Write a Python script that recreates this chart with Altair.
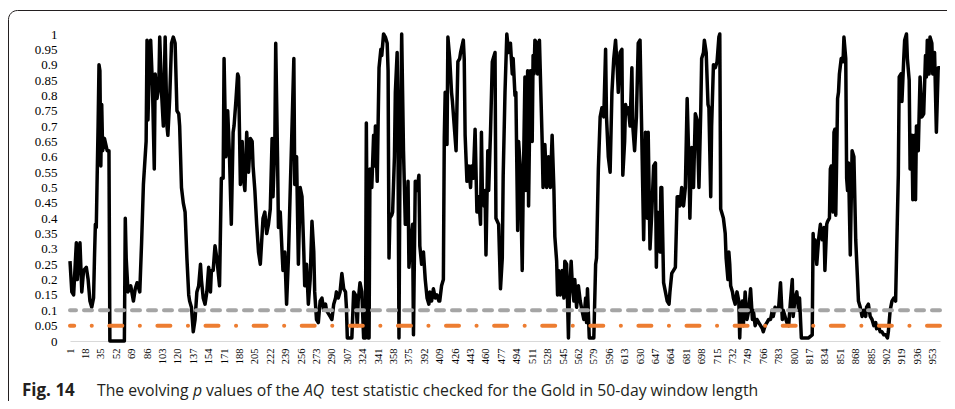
import altair as alt
import pandas as pd

# ---- data (day index, p value) ----
days = [1, 3, 5, 8, 9, 12, 14, 16, 19, 21, 23, 25, 27, 28, 29, 30, 31, 32, 33, 34, 35, 36, 37, 39, 42, 44, 45, 61, 62, 63, 65, 68, 71, 73, 75, 78, 80, 82, 85, 86, 87, 89, 90, 92, 94, 95, 97, 99,
        100, 102, 104, 106, 108, 109, 111, 113, 115, 117, 119, 121, 122, 124, 126, 128, 130, 132, 133, 135, 137, 139, 141, 143, 145, 146, 148, 150, 152, 154, 156, 157, 159, 161, 163, 166, 168, 170, 171, 173, 175, 177, 179, 181, 182, 184, 186, 187, 189, 191, 192, 194, 196, 198,
        200, 202, 203, 205, 207, 209, 211, 213, 214, 216, 218, 220, 222, 224, 225, 227, 228, 230, 231, 233, 235, 236, 238, 240, 242, 244, 246, 248, 249, 251, 253, 255, 257, 259, 260, 262, 264, 266, 268, 270, 271, 273, 275, 277, 279, 281, 283, 284, 288, 290, 292, 294, 295, 297, 299,
        301, 303, 305, 306, 307, 312, 314, 316, 318, 319, 321, 323, 325, 327, 328, 329, 330, 331, 332, 334, 336, 337, 338, 340, 341, 342, 344, 345, 347, 349, 351, 352, 353, 354, 356, 357, 359, 360, 362, 363, 364, 365, 367, 369, 371, 373, 374, 375, 377, 379, 380, 381, 382, 384, 386, 387, 389, 391, 393, 395, 397, 398,
        400, 402, 404, 406, 408, 409, 411, 413, 414, 415, 417, 418, 420, 422, 423, 425, 427, 429, 431, 432, 435, 436, 437, 439, 441, 443, 444, 446, 448, 450, 452, 454, 455, 456, 458, 459, 460, 462, 463, 465, 467, 468, 470, 471, 474, 476, 478, 479, 481, 483, 485, 487, 489, 490, 492, 493, 495, 496, 498,
        500, 501, 503, 504, 506, 507, 509, 511, 512, 513, 514, 516, 517, 519, 520, 522, 523, 525, 527, 529, 531, 533, 535, 536, 538, 539, 540, 542, 544, 546, 547, 549, 551, 552, 554, 555, 557, 558, 560, 562, 564, 566, 568, 570, 571, 572, 574, 579, 581, 582, 584, 586, 588, 590, 592, 593, 595, 597, 599,
        601, 603, 605, 606, 608, 610, 611, 613, 614, 616, 617, 619, 621, 622, 624, 626, 628, 630, 634, 636, 638, 639, 641, 643, 645, 647, 648, 649, 652, 653, 654, 656, 658, 660, 662, 663, 665, 667, 669, 671, 673, 674, 676, 678, 680, 682, 684, 685, 687, 689, 691, 693, 695, 697, 698,
        700, 701, 703, 705, 706, 708, 709, 711, 713, 715, 717, 718, 719, 720, 722, 724, 725, 727, 728, 729, 730, 732, 733, 735, 737, 739, 740, 741, 743, 744, 746, 748, 750, 752, 754, 755, 757, 759, 761, 763, 765, 766, 768, 770, 772, 774, 776, 777, 779, 781, 783, 785, 787, 788, 790, 792, 794, 796, 798, 799,
        801, 803, 805, 806, 808, 812, 816, 820, 821, 822, 823, 825, 827, 829, 831, 833, 834, 836, 837, 839, 840, 841, 843, 844, 845, 846, 848, 849, 850, 852, 854, 855, 857, 858, 859, 860, 862, 864, 866, 868, 870, 871, 873, 875, 877, 879, 880, 882, 884, 886, 888, 890, 891, 893, 895, 897, 899,
        901, 903, 904, 906, 908, 910, 912, 913, 915, 916, 918, 919, 921, 922, 924, 925, 927, 928, 930, 931, 933, 934, 935, 937, 939, 941, 943, 945, 946, 947, 949, 950, 952, 953, 955, 957, 959, 961]

p_values = [.26, .16, .15, .32, .20, .32, .16, .23, .24, .20, .13, .11, .14, .27, .38, .37, .54, .70, .90, .88, .57, .77, .62, .66, .62, .62, 0, 0, .40, .27, .16, .18, .13, .17, .19, .16, .32, .51, .65, .98, .72, .94, .98, .83, .56, .87, .79, .83,
            .99, .81, .70, .99, .70, .67, .79, .97, .99, .97, .75, .74, .70, .50, .45, .42, .27, .15, .13, .11, .03, .07, .16, .18, .25, .20, .14, .12, .16, .24, .16, .23, .23, .31, .27, .18, .53, .53, .92, .60, .75, .60, .38, .68, .70, .78, .87, .86, .51, .65, .54, .49, .68, .55,
            .66, .65, .57, .49, .38, .29, .25, .35, .40, .42, .35, .38, .43, .66, .47, .64, .97, .60, .37, .42, .29, .23, .29, .12, .27, .49, .70, .92, .51, .60, .25, .50, .47, .29, .18, .25, .12, .20, .39, .29, .16, .07, .06, .13, .14, .10, .12, .10, .08, .07, .12, .14, .16, .14, .16,
            .22, .17, .16, .11, .01, .01, .16, .15, .05, .13, .19, .16, .01, .01, .71, .27, .01, .01, .56, .50, .67, .57, .70, .52, .71, .89, .95, .93, 1.0, .99, .97, .88, .27, .40, .41, .42, .60, .81, .94, .60, .01, .52, 1.0, .62, .38, .38, .52, .24, .32, .38, .02, .27, .52, .49, .54, .31, .25, .29, .20, .14, .12, .16,
            .13, .17, .14, .15, .13, .13, .18, .20, .66, .81, .64, .99, .92, .81, .78, .70, .62, .91, .92, .94, .98, .92, .67, .52, .57, .50, .57, .53, .69, .42, .47, .38, .68, .49, .44, .49, .28, .62, .49, .68, .91, .92, .94, .40, .38, .17, .27, .54, .81, 1.0, .94, .97, .87, .92, .80, .81, .36, .65, .56,
            .23, .48, .86, .49, .88, .44, .88, .65, .93, .87, .98, .97, .87, .98, .87, .65, .50, .64, .50, .60, .50, .67, .49, .34, .26, .15, .23, .15, .23, .14, .26, .25, .01, .14, .26, .20, .13, .20, .11, .18, .13, .10, .07, .14, .06, .17, .01, .01, .25, .27, .56, .73, .76, .73, .95, .73, .60, .55, .81,
            .92, .98, .88, .81, .94, .95, .54, .65, .77, .74, .76, .70, .89, .70, .62, .73, .97, .98, .33, .68, .40, .68, .30, .42, .57, .58, .24, .42, .29, .50, .50, .19, .16, .13, .12, .16, .22, .23, .24, .47, .47, .44, .50, .44, .50, .79, .57, .40, .63, .50, .74, .72, .50, .75, .92,
            .94, .98, .94, .77, .76, .47, .70, .90, .89, .91, .99, 1.0, .43, .42, .40, .35, .27, .20, .29, .25, .18, .16, .14, .12, .16, .13, .01, .10, .13, .05, .16, .07, .10, .17, .07, .10, .05, .07, .06, .05, .04, .03, .05, .06, .07, .07, .10, .08, .11, .10, .11, .19, .07, .10, .08, .06, .05, .13, .20, .08,
            .14, .16, .10, .14, .01, .01, .01, .02, .35, .27, .33, .25, .33, .38, .33, .37, .23, .38, .39, .40, .56, .57, .42, .68, .69, .41, .79, .81, .87, .92, .91, .99, .92, .53, .49, .58, .28, .62, .60, .33, .20, .13, .11, .08, .10, .08, .11, .12, .08, .07, .05, .06, .04, .05, .03, .03, .02,
            .02, .01, .03, .10, .13, .14, .13, .27, .54, .86, .87, .78, .92, .98, 1.0, .92, .85, .56, .67, .46, .67, .46, .70, .62, .86, .73, .74, .93, .86, .98, .87, .99, .97, .87, .94, .68, .89, .89]

x_tick_labels = list(range(1, 954, 17))          # 1, 18, 35, ... 953
y_ticks = [round(i * 0.05, 2) for i in range(21)]  # 0 ... 1
gray_level = [0.1]
orange_level = [0.05]

caption_bold = "Fig. 14"
caption_parts = [("The evolving", "normal"), ("p", "italic"), ("values of the", "normal"),
                 ("AQ", "italic"), ("test statistic checked for the Gold in 50-day window length", "normal")]
caption_x = [27, 123, 136, 234, 261]

df = pd.DataFrame({"day": days, "p": p_values})
one = pd.DataFrame({"k": [0]})

W, H = 870, 307
serif = "Liberation Serif"

x_enc = alt.X("day:Q", scale=alt.Scale(domain=[1, 961], nice=False, zero=False),
              axis=alt.Axis(values=x_tick_labels, labelAngle=-90, grid=False, ticks=False,
                            domainColor="#d9d9d9", domainWidth=1, labelFont=serif, labelFontSize=10.5,
                            labelPadding=7, labelColor="#000", labelOverlap=False, labelFlush=False,
                            title=None))
y_enc = alt.Y("p:Q", scale=alt.Scale(domain=[0, 1], nice=False),
              axis=alt.Axis(values=y_ticks, format=".2~f", grid=False, ticks=False, domain=False,
                            labelFont=serif, labelFontSize=13, labelPadding=13, labelColor="#000",
                            labelOverlap=False, labelFlush=False, title=None))

line = alt.Chart(df).mark_line(color="#000000", strokeWidth=3.5, strokeJoin="round").encode(x=x_enc, y=y_enc)

gray_rule = alt.Chart(pd.DataFrame({"p": gray_level})).mark_rule(
    color="#a5a5a5", strokeWidth=4, strokeDash=[8, 8], strokeCap="round").encode(y=y_enc)
orange_rule = alt.Chart(pd.DataFrame({"p": orange_level})).mark_rule(
    color="#ed7d31", strokeWidth=4, strokeDash=[13, 17.5, 0.1, 17.5], strokeCap="round").encode(y=y_enc)

frame = alt.Chart(one).mark_rect(filled=False, stroke="#231f20", strokeWidth=1, cornerRadius=9).encode(
    x=alt.value(-61.5), x2=alt.value(3000), y=alt.value(-23.5), y2=alt.value(3000))

cap_y = 362
cap_layers = [alt.Chart(one).mark_text(text=caption_bold, font="Open Sans", fontWeight="bold", fontSize=17,
                                       align="left", baseline="alphabetic", color="#231f20").encode(
    x=alt.value(-48), y=alt.value(cap_y))]
for (txt, style), cx in zip(caption_parts, caption_x):
    cap_layers.append(alt.Chart(one).mark_text(text=txt, font="Open Sans", fontStyle=style, fontSize=15.75,
                                               align="left", baseline="alphabetic", color="#231f20").encode(
        x=alt.value(cx), y=alt.value(cap_y)))

chart = alt.layer(line, gray_rule, orange_rule, frame, *cap_layers).properties(
    width=W, height=H,
    autosize=alt.AutoSizeParams(type="none"),
    padding={"left": 62, "top": 26, "right": 7, "bottom": 60},
    background="white",
).configure_view(stroke=None).configure_axis(labelFont=serif, labelColor="#000")

chart.save("out.html", embed_options={"renderer": "svg", "actions": False})
